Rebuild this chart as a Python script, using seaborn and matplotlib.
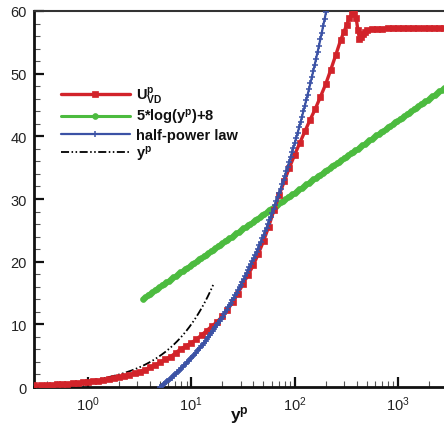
import numpy as np
import matplotlib
matplotlib.use("Agg")
import matplotlib.pyplot as plt
import seaborn as sns

# Van Driest transformed mean velocity profile (wall units)
u_vd_yp = [0.30, 0.35, 0.40, 0.45, 0.50, 0.56, 0.63, 0.71, 0.80, 0.89, 1.0, 1.12,
           1.26, 1.41, 1.58, 1.78, 2.0, 2.24, 2.51, 2.82, 3.16, 3.55, 3.98, 4.47,
           5.01, 5.62, 6.31, 7.08, 7.94, 8.91, 10.0, 11.2, 12.6, 14.1, 15.8, 17.8,
           20.0, 22.4, 25.1, 28.2, 31.6, 35.5, 39.8, 44.7, 50.1, 56.2, 63.1, 70.8,
           79.4, 89.1, 100.0, 112.0, 126.0, 141.0, 158.0, 178.0, 200.0, 224.0,
           251.0, 280.0, 300.0, 320.0, 340.0, 360.0, 380.0, 395.0, 410.0, 425.0,
           440.0, 460.0, 480.0, 500.0, 560.0, 630.0, 710.0, 800.0, 900.0, 1000.0,
           1120.0, 1260.0, 1410.0, 1580.0, 1780.0, 2000.0, 2240.0, 2510.0, 2800.0]
u_vd_val = [0.25, 0.29, 0.33, 0.37, 0.42, 0.47, 0.53, 0.59, 0.66, 0.73, 0.81, 0.90,
            1.01, 1.12, 1.25, 1.40, 1.57, 1.76, 1.96, 2.20, 2.45, 2.78, 3.12, 3.50,
            3.95, 4.40, 4.85, 5.45, 6.10, 6.55, 7.05, 7.60, 8.30, 9.00, 9.70, 10.4,
            11.3, 12.3, 13.5, 14.9, 16.4, 17.9, 19.4, 21.3, 23.3, 25.6, 28.2, 30.6,
            32.8, 35.0, 37.0, 38.9, 40.8, 42.6, 44.3, 46.3, 48.3, 50.6,
            53.0, 55.4, 56.6, 57.8, 58.9, 59.5, 59.8, 58.9, 57.0, 55.6,
            55.8, 56.3, 56.7, 56.9, 57.1, 57.2, 57.2, 57.25, 57.25, 57.3,
            57.3, 57.3, 57.3, 57.3, 57.35, 57.35, 57.35, 57.35, 57.35]

# Log law  U = 5*log(y)+8
log_slope, log_const = 5.0, 8.0
log_range = (3.4, 2800.0)
# Half-power law  U = A*(sqrt(y) - sqrt(y0))
half_a, half_y0 = 5.0, 5.0
half_range = (5.0, 215.0)
# Viscous sublayer  U = y
lin_range = (0.3, 16.4)

labels = [r"$\mathbf{U^{p}_{VD}}$", r"$\mathbf{5{*}log(y^{p}){+}8}$",
          "half-power law", r"$\mathbf{y^{p}}$"]
x_label = r"$\mathbf{y^{p}}$"

sns.set_theme(style="ticks")
plt.rcParams["font.family"] = ["Liberation Sans", "DejaVu Sans"]
plt.rcParams["mathtext.fontset"] = "custom"
plt.rcParams["mathtext.rm"] = "Liberation Sans"
plt.rcParams["mathtext.it"] = "Liberation Sans:italic"
plt.rcParams["mathtext.bf"] = "Liberation Sans:bold"
plt.rcParams["lines.scale_dashes"] = False

RED, GREEN, BLUE = "#d2232a", "#4cbb3f", "#3b52a5"

fig = plt.figure(figsize=(4.44, 4.27), dpi=100)
ax = fig.add_axes([0.0766, 0.0913, 0.9234, 0.8806])

y_log = np.geomspace(*log_range, 130)
y_half = np.geomspace(*half_range, 120)
y_lin = np.geomspace(*lin_range, 60)

sns.lineplot(x=u_vd_yp, y=u_vd_val, ax=ax, color=RED, lw=2.4, marker="s",
             markersize=3.8, markeredgewidth=0.5, markeredgecolor=RED,
             label=labels[0], zorder=4)
sns.lineplot(x=y_log, y=log_slope * np.log(y_log) + log_const, ax=ax, color=GREEN,
             lw=2.2, marker="o", markersize=4.2, markeredgewidth=0.5,
             markeredgecolor=GREEN, label=labels[1], zorder=3)
sns.lineplot(x=y_half, y=half_a * (np.sqrt(y_half) - np.sqrt(half_y0)), ax=ax,
             color=BLUE, lw=1.6, marker="+", markersize=5, markeredgewidth=1.1,
             markeredgecolor=BLUE, label=labels[2], zorder=5)
sns.lineplot(x=y_lin, y=y_lin, ax=ax, color="black", lw=1.3,
             linestyle=(0, (5.8, 1.8, 1.1, 1.8, 1.1, 1.8)), label=labels[3],
             zorder=2)

ax.set_xscale("log")
ax.set_xlim(0.3, 2800)
ax.set_ylim(0, 60)
ax.set_yticks(np.arange(0, 61, 10))
ax.set_yticks(np.arange(0, 61, 2), minor=True)

for side in ["left", "bottom"]:
    ax.spines[side].set_linewidth(2.0)
    ax.spines[side].set_color("#111111")
ax.spines["top"].set_linewidth(1.5)
ax.spines["top"].set_color("#333333")
ax.spines["right"].set_visible(False)

ax.tick_params(which="major", direction="in", length=7, width=1.6,
               labelsize=10.5, colors="#111111", labelcolor="#222222", pad=5,
               top=False, right=False)
ax.tick_params(which="minor", direction="in", length=4, width=0.8,
               colors="#555555", top=False, right=False)

ax.set_xlabel(x_label, fontsize=12.5, color="#111111")
ax.xaxis.set_label_coords(0.5, -0.046)
ax.set_ylabel("")

leg = ax.legend(loc="upper left", bbox_to_anchor=(0.066, 0.805), frameon=False,
                handlelength=4.7, handletextpad=0.45,
                labelspacing=0.12, borderpad=0, borderaxespad=0, numpoints=1,
                prop={"weight": "bold", "size": 10.5})
for t in leg.get_texts():
    t.set_color("#111111")

fig.savefig("out.png", dpi=100)
